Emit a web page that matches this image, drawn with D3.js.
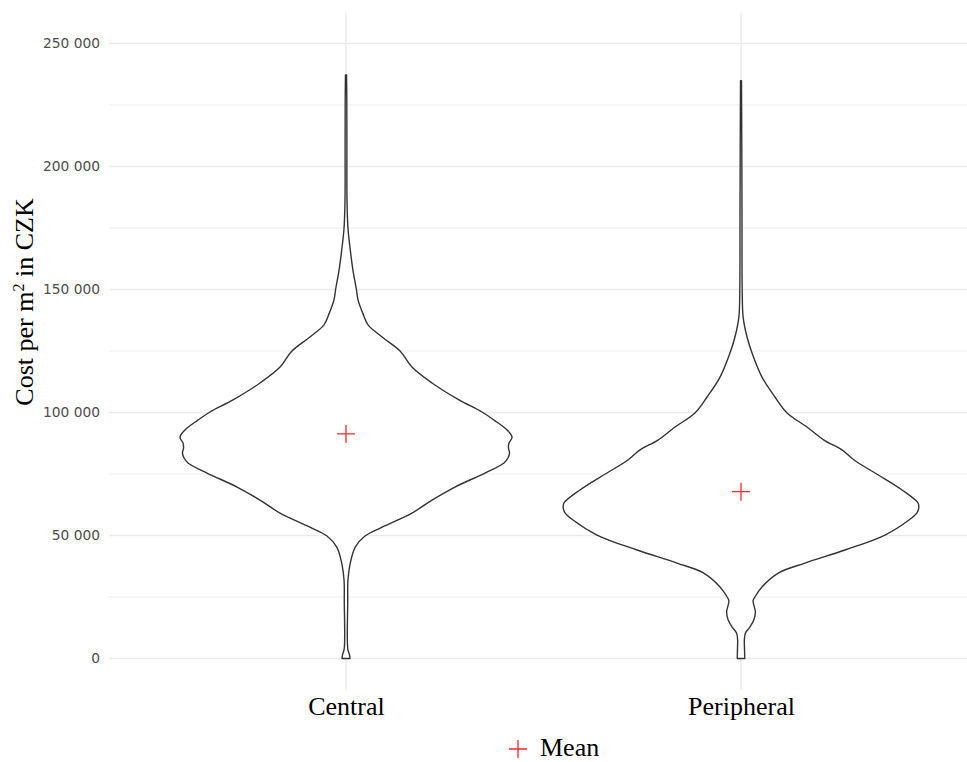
<!DOCTYPE html>
<html>
<head>
<meta charset="utf-8">
<script src="https://cdn.jsdelivr.net/npm/d3@7"></script>
<style>
  html, body { margin: 0; padding: 0; background: #ffffff; }
  svg { display: block; }
</style>
</head>
<body>
<div id="chart"></div>
<script>
// Categories and means
const categories = ["Central", "Peripheral"];
const means = [91300, 67800];

// Estimated density profiles (value in CZK, density scaled so the widest violin = 1)
const centralValues = [0, 1400, 3500, 5500, 10400, 22600, 31900, 38800, 45300, 49800,
  53400, 59100, 64400, 69700, 75400, 79500, 81500, 83500, 85600, 87600,
  90000, 92900, 96900, 100200, 105100, 112000, 118500, 125000, 130700, 135600,
  140400, 145700, 150200, 157900, 166100, 175000, 186400, 206700, 227100, 237200];
const centralDensity = [0.0225, 0.020, 0.011, 0.0084, 0.0073, 0.0096, 0.011, 0.024, 0.052, 0.107,
  0.203, 0.371, 0.484, 0.613, 0.782, 0.889, 0.911, 0.920, 0.914, 0.917,
  0.934, 0.906, 0.833, 0.765, 0.636, 0.484, 0.371, 0.304, 0.203, 0.124,
  0.094, 0.068, 0.058, 0.039, 0.024, 0.011, 0.0056, 0.005, 0.0045, 0.003];

const peripheralValues = [0, 3500, 7500, 10400, 12800, 15650, 18900, 23400, 25000, 29100,
  34800, 38800, 44100, 50200, 56300, 59200, 61200, 63200, 68500, 75400,
  80700, 84800, 88800, 94100, 99800, 106300, 114400, 124200, 130700, 138800,
  149800, 178300, 206700, 234900];
const peripheralDensity = [0.021, 0.020, 0.019, 0.025, 0.05, 0.072, 0.081, 0.068, 0.078, 0.118,
  0.212, 0.36, 0.585, 0.81, 0.945, 0.99, 1.0, 0.996, 0.906, 0.754,
  0.636, 0.568, 0.467, 0.371, 0.259, 0.191, 0.118, 0.062, 0.034, 0.012,
  0.0068, 0.0056, 0.0045, 0.0028];

// Axis breaks
const yTicks = [0, 50000, 100000, 150000, 200000, 250000];
const yMinorTicks = [25000, 75000, 125000, 175000, 225000];

const W = 967, H = 762;
const svg = d3.select("#chart").append("svg").attr("width", W).attr("height", H);

const serif = "'Liberation Serif', 'Times New Roman', serif";
const sans = "'DejaVu Sans', Verdana, sans-serif";

// Scales: discrete positions 1..n with 0.6 padding, y padded by 5%
const x = d3.scaleLinear().domain([0.4, categories.length + 0.6]).range([109, 978]);
const y = d3.scaleLinear().domain([-12500, 262500]).range([689.25, 12.75]);
const halfWidth = d3.scaleLinear().domain([0, 1]).range([0, x(1.45) - x(1)]);

const panel = { left: x.range()[0], right: x.range()[1], top: y.range()[1], bottom: y.range()[0] };

// Gridlines
const grid = svg.append("g");
grid.selectAll("line.minor").data(yMinorTicks).join("line")
  .attr("class", "minor")
  .attr("x1", panel.left).attr("x2", panel.right)
  .attr("y1", d => y(d)).attr("y2", d => y(d))
  .attr("stroke", "#ededed").attr("stroke-width", 1);
grid.selectAll("line.major").data(yTicks).join("line")
  .attr("class", "major")
  .attr("x1", panel.left).attr("x2", panel.right)
  .attr("y1", d => y(d)).attr("y2", d => y(d))
  .attr("stroke", "#ebebeb").attr("stroke-width", 1.5);
grid.selectAll("line.vmajor").data(categories).join("line")
  .attr("class", "vmajor")
  .attr("x1", (d, i) => x(i + 1)).attr("x2", (d, i) => x(i + 1))
  .attr("y1", panel.top).attr("y2", panel.bottom)
  .attr("stroke", "#ebebeb").attr("stroke-width", 1.5);

// Y axis labels with space as thousands separator
const fmt = d3.formatLocale({ decimal: ".", thousands: " ", grouping: [3], currency: ["", ""] }).format(",");
const yAxis = d3.axisLeft(y).tickValues(yTicks).tickFormat(fmt).tickSize(0).tickPadding(0);
const yAxisG = svg.append("g").attr("transform", "translate(100,0)").call(yAxis);
yAxisG.select(".domain").remove();
yAxisG.selectAll("text")
  .attr("fill", "#4d4d4d")
  .style("font-family", sans)
  .style("font-size", "13.8px");

// X axis labels
const xAxis = d3.axisBottom(x).tickValues(categories.map((c, i) => i + 1))
  .tickFormat((d, i) => categories[i]).tickSize(0).tickPadding(0);
const xAxisG = svg.append("g").attr("transform", "translate(0,697)").call(xAxis);
xAxisG.select(".domain").remove();
xAxisG.selectAll("text")
  .attr("dy", "0.71em")
  .attr("fill", "#000")
  .style("font-family", serif)
  .style("font-size", "26px");

// Y axis title
const yTitle = svg.append("text")
  .attr("transform", "translate(33,302) rotate(-90)")
  .attr("text-anchor", "middle")
  .style("font-family", serif)
  .style("font-size", "26px")
  .attr("fill", "#000");
yTitle.append("tspan").text("Cost per m");
yTitle.append("tspan").attr("dy", -9).style("font-size", "16px").text("2");
yTitle.append("tspan").attr("dy", 9).text(" in CZK");

// Violins
const profiles = [
  d3.zip(centralValues, centralDensity),
  d3.zip(peripheralValues, peripheralDensity)
];

profiles.forEach((prof, i) => {
  const cx = x(i + 1);
  const area = d3.area()
    .curve(d3.curveCatmullRom.alpha(0.5))
    .y(d => y(d[0]))
    .x0(d => cx - halfWidth(d[1]))
    .x1(d => cx + halfWidth(d[1]));
  svg.append("path")
    .datum(prof)
    .attr("d", area)
    .attr("fill", "#ffffff")
    .attr("stroke", "#333333")
    .attr("stroke-width", 1.4)
    .attr("stroke-linejoin", "round");
});

// Mean markers
const plus = "M-9,0H9M0,-9V9";
svg.selectAll("path.mean").data(means).join("path")
  .attr("class", "mean")
  .attr("d", plus)
  .attr("transform", (d, i) => `translate(${x(i + 1)},${y(d)})`)
  .attr("stroke", "#ff2a2a")
  .attr("stroke-width", 1.3)
  .attr("fill", "none");

// Legend
const legend = svg.append("g").attr("transform", "translate(518,749)");
legend.append("path").attr("d", plus).attr("stroke", "#ff2a2a").attr("stroke-width", 1.3).attr("fill", "none");
legend.append("text")
  .attr("x", 22).attr("y", 7)
  .style("font-family", serif)
  .style("font-size", "26px")
  .attr("fill", "#000")
  .text("Mean");
</script>
</body>
</html>
